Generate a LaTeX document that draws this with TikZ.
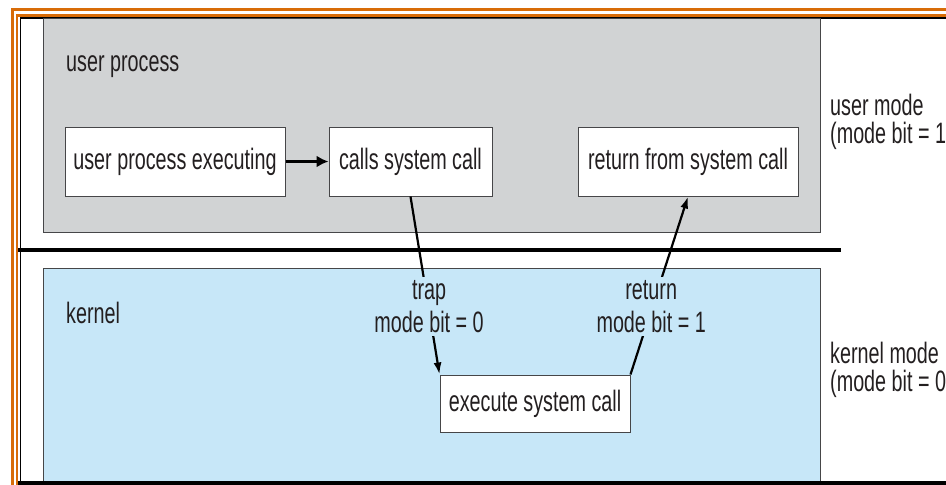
\documentclass[tikz,border=0pt]{standalone}
\usepackage{fontspec}
\setmainfont{Liberation Sans}[FakeStretch=0.67]
\usetikzlibrary{arrows.meta}
\definecolor{frameorange}{RGB}{216,108,8}
\definecolor{usergray}{RGB}{209,211,212}
\definecolor{kernelblue}{RGB}{199,231,248}
\definecolor{boxline}{RGB}{70,70,72}
\definecolor{inkgray}{RGB}{35,31,32}

\begin{document}
\begin{tikzpicture}[x=1pt,y=-1pt,
  every node/.style={text=inkgray, font=\fontsize{29.5}{29}\selectfont},
  box/.style={draw=boxline, fill=white, line width=1pt, minimum height=69pt, inner sep=0pt},
  lbl/.style={align=center, fill=kernelblue, inner sep=3pt, font=\fontsize{29.5}{33}\selectfont},
  side/.style={anchor=north west, align=left, inner sep=0pt, font=\fontsize{29.5}{27.5}\selectfont},
  link/.style={line width=2.2pt, -{Latex[length=12pt,width=8pt]}}]
\useasboundingbox (0,0) rectangle (946,485);
% frame
\draw[frameorange, line width=3pt] (946,9) -- (12.5,9) -- (12.5,485);
\draw[frameorange, line width=2.5pt] (946,15.5) -- (17,15.5) -- (17,485);
\draw[line width=1.5pt] (946,18) -- (20.5,18) -- (20.5,485);
% the two modes
\draw[boxline, fill=usergray] (43,18) rectangle (820,232);
\draw[boxline, fill=kernelblue] (43,268) rectangle (820,484);
\draw[line width=4pt] (18,250) -- (841,250);
\draw[line width=4pt] (18,483) -- (946,483);
\node [anchor=base west, inner sep=0pt] (user) at (66,71) {user process};
\node [anchor=base west, inner sep=0pt] (kernel) at (66,323) {kernel};
\node [side] (umode) at (830,94) {user mode\\(mode bit = 1};
\node [side] (kmode) at (830,342) {kernel mode\\(mode bit = 0};
% steps
\node [box, minimum width=220pt] (upe) at (175,161.5) {user process executing};
\node [box, minimum width=163pt] (csc) at (410.5,161.5) {calls system call};
\node [box, minimum width=220pt] (rfs) at (688,161.5) {return from system call};
\node [box, minimum width=190pt, minimum height=57pt] (esc) at (535,403.5) {execute system call};
\draw [line width=3.5pt, -{Latex[length=12pt,width=12pt]}] (upe) -- (csc);
\draw [link] (csc.south) -- node [lbl, pos=0.64, yshift=4pt] (trap) {trap\\mode bit = 0} (esc.north west);
\draw [link] (esc.north east) -- node [lbl, pos=0.36, yshift=4pt] (ret) {return\\mode bit = 1} (rfs.south);
\end{tikzpicture}
\end{document}
